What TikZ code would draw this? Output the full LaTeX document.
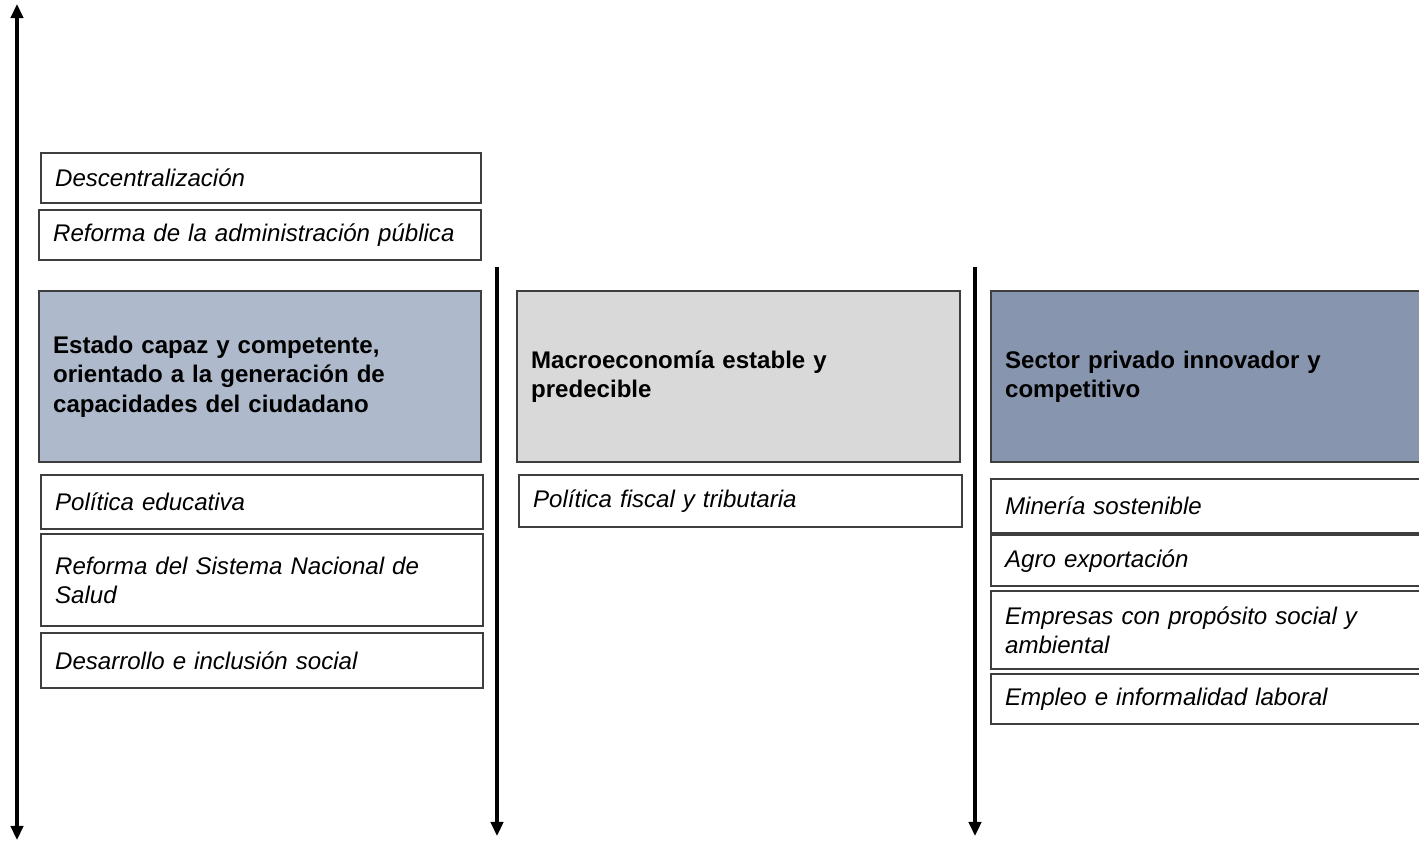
\documentclass[tikz,border=0pt]{standalone}
\usepackage{fontspec}
\setmainfont{Liberation Sans}
\usetikzlibrary{arrows.meta}
\definecolor{estadoAzul}{RGB}{174,185,203}
\definecolor{macroGris}{RGB}{217,217,217}
\definecolor{sectorAzul}{RGB}{135,150,174}
\definecolor{marco}{RGB}{62,62,62}
\tikzset{
  caja/.style n args={2}{draw=marco,line width=1.3pt,anchor=north west,inner xsep={14*0.02cm},inner ysep=0pt,
    minimum width={#1*0.02cm},text width={(#1-28)*0.02cm},minimum height={#2*0.02cm},align=left},
  item/.style={font=\fontsize{13.7}{16.7}\selectfont\itshape},
  titulo/.style={font=\fontsize{13.7}{16.7}\selectfont\bfseries},
  punta/.tip={Triangle[length=8pt,width=7pt]},
  eje/.style={line width=2.3pt,-punta}
}
\begin{document}
\begin{tikzpicture}[x=0.02cm,y=-0.02cm]
%Alles in Pixeln des Originals (1419 x 842), y nach unten
  \pgfmathsetmacro{\xIzq}{40}
  \pgfmathsetmacro{\xMed}{518}
  \pgfmathsetmacro{\xDer}{990}
  \useasboundingbox (0,0) rectangle (1419,842);
  \clip (0,0) rectangle (1419,842);
%Achsen
\draw[eje,punta-punta] (17,840) -- (17,4);
\draw[eje] (497,267) -- (497,836);
\draw[eje] (975,267) -- (975,836);
%obere Kästen
\node[caja={440}{50},item] (descentral) at (\xIzq,152) {Descentralización};
\node[caja={442}{50},item] (reformaAdm) at (38,209) {Reforma de la administración pública};
%Hauptkästen
\node[caja={442}{171},titulo,fill=estadoAzul] (estado) at (38,290) {Estado capaz y competente,\\orientado a la generación de\\capacidades del ciudadano};
\node[caja={443}{171},titulo,fill=macroGris] (macro) at (516,290) {Macroeconomía estable y\\predecible};
\node[caja={440}{171},titulo,fill=sectorAzul] (sector) at (\xDer,290) {Sector privado innovador y\\competitivo};
%Politiken
\foreach \y/\h/\t [count=\i] in {474/54/{Política educativa},533/92/{Reforma del Sistema Nacional de\\Salud},632/55/{Desarrollo e inclusión social}}{
\node[caja={442}{\h},item] (estado\i) at (\xIzq,\y) {\t};
}
\node[caja={443}{52},item] (macro1) at (\xMed,474) {Política fiscal y tributaria};
\foreach \y/\h/\t [count=\i] in {478/54/{Minería sostenible},534/51/{Agro exportación},590/78/{Empresas con propósito social y\\ambiental},673/50/{Empleo e informalidad laboral}}{
\node[caja={440}{\h},item] (sector\i) at (\xDer,\y) {\t};
}
\end{tikzpicture}
\end{document}
